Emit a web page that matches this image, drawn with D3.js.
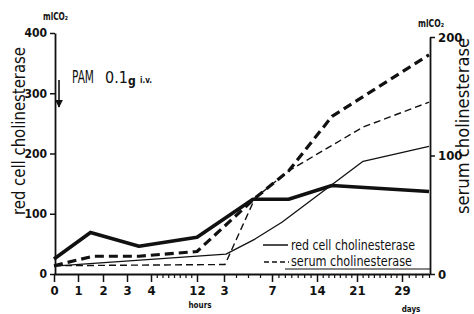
<!DOCTYPE html>
<html>
<head>
<meta charset="utf-8">
<script src="https://cdn.jsdelivr.net/npm/d3@7"></script>
<style>
  body { margin: 0; background: #fff; }
  text { font-family: "DejaVu Sans Condensed", "Liberation Sans Narrow", "Liberation Sans", sans-serif; font-stretch: condensed; fill: #111; }
  .axis path, .axis line { stroke: #111; }
</style>
</head>
<body>
<div id="chart"></div>
<script>
// Data (time in hours, 3d = 72h etc.)
// ===========================

// x axis: labelled ticks (hours first, then days)
var tickHours = [0, 1, 2, 3, 4, 12, 72, 168, 336, 504, 696];
var tickLabels = ["0", "1", "2", "3", "4", "12", "3", "7", "14", "21", "29"];
// minor ticks: hours 5..11, then single days
var minorHours = [5, 6, 7, 8, 9, 10, 11, 96, 120, 144,
  192, 216, 240, 264, 288, 312, 360, 384, 408, 432, 456, 480,
  528, 552, 576, 600, 624, 648, 672, 720, 744, 768, 792];

// red cell cholinesterase (left axis), two cases
var redHoursA = [0, 1.5, 3.5, 12, 130, 230, 399, 792];
var redValuesA = [25, 69, 46, 61, 124, 124, 147, 137];
var redHoursB = [0, 76, 134, 205, 530, 792];
var redValuesB = [13, 33, 58, 86, 187, 212];

// serum cholinesterase (right axis), two cases
var serumHoursA = [0, 1.6, 3.5, 12, 134, 230, 399, 792];
var serumValuesA = [7, 15, 15, 19, 64, 87, 133, 185];
var serumHoursB = [0, 74, 134, 230, 530, 792];
var serumValuesB = [7, 8, 64, 87, 124, 145];

var leftTicks = [0, 100, 200, 300, 400];
var rightTicks = [0, 100, 200];

// Setup
// ===========================
var width = 474;
var height = 314;

var svg = d3.select("#chart")
  .append("svg")
  .attr("width", width)
  .attr("height", height);

svg.append("rect").attr("width", width).attr("height", height).attr("fill", "#fff");

// piecewise x scale: hours are spread wide, days get squeezed
var x = d3.scaleLinear()
  .domain([0, 1, 2, 3, 4, 12, 72, 168, 336, 504, 696, 792])
  .range([54, 78, 103, 127, 151, 197, 224, 272, 317, 357, 402, 429]);

var yLeft = d3.scaleLinear().domain([0, 400]).range([274, 33]);
var yRight = d3.scaleLinear().domain([0, 200]).range([274, 37]);

// Axes
// ===========================
var xAxis = svg.append("g")
  .attr("class", "axis")
  .attr("transform", "translate(0,274)")
  .call(d3.axisBottom(x)
    .tickValues(tickHours)
    .tickFormat(function(d, i) { return tickLabels[i]; })
    .tickSize(8)
    .tickSizeOuter(0)
    .tickPadding(4));
xAxis.select(".domain").attr("stroke-width", 1.8);
xAxis.selectAll(".tick line").attr("stroke-width", 1.5);
xAxis.selectAll("text")
  .style("font-size", "13px")
  .style("font-weight", "bold");

svg.append("g")
  .attr("class", "axis")
  .attr("transform", "translate(0,274)")
  .call(d3.axisBottom(x).tickValues(minorHours).tickSize(4).tickFormat(""))
  .call(function(g) { g.select(".domain").remove(); })
  .selectAll(".tick line").attr("stroke-width", 1.2);

var leftAxis = svg.append("g")
  .attr("class", "axis")
  .attr("transform", "translate(55,0)")
  .call(d3.axisLeft(yLeft).tickValues(leftTicks).tickSize(5).tickSizeOuter(0).tickPadding(3));
leftAxis.select(".domain").attr("stroke-width", 1.8);
leftAxis.selectAll(".tick line").attr("stroke-width", 1.5);
leftAxis.selectAll("text").style("font-size", "12px").style("font-weight", "bold");

var rightAxis = svg.append("g")
  .attr("class", "axis")
  .attr("transform", "translate(430,0)")
  .call(d3.axisRight(yRight).tickValues(rightTicks).tickSize(5).tickSizeOuter(0).tickPadding(3));
rightAxis.select(".domain").attr("stroke-width", 1.8);
rightAxis.selectAll(".tick line").attr("stroke-width", 1.5);
rightAxis.selectAll("text").style("font-size", "13px").style("font-weight", "bold");

// axis titles
svg.append("text")
  .attr("transform", "translate(25,131)rotate(-90)")
  .attr("text-anchor", "middle")
  .attr("textLength", 168)
  .attr("lengthAdjust", "spacingAndGlyphs")
  .style("font-size", "18px")
  .text("red cell cholinesterase");

svg.append("text")
  .attr("transform", "translate(469,126)rotate(-90)")
  .attr("text-anchor", "middle")
  .attr("textLength", 176)
  .attr("lengthAdjust", "spacingAndGlyphs")
  .style("font-size", "17px")
  .text("serum cholinesterase");

svg.append("text")
  .attr("x", 43).attr("y", 20)
  .attr("textLength", 25).attr("lengthAdjust", "spacingAndGlyphs")
  .style("font-size", "10px").style("font-weight", "bold")
  .text("mlCO₂");
svg.append("text")
  .attr("x", 418).attr("y", 27)
  .attr("textLength", 26).attr("lengthAdjust", "spacingAndGlyphs")
  .style("font-size", "10px").style("font-weight", "bold")
  .text("mlCO₂");

svg.append("text")
  .attr("x", 200).attr("y", 308)
  .attr("text-anchor", "middle")
  .style("font-size", "8px").style("font-weight", "bold")
  .text("hours");
svg.append("text")
  .attr("x", 411).attr("y", 312)
  .attr("text-anchor", "middle")
  .style("font-size", "8px").style("font-weight", "bold")
  .text("days");

// PAM annotation
svg.append("text").attr("x", 72).attr("y", 83)
  .attr("textLength", 22).attr("lengthAdjust", "spacingAndGlyphs")
  .style("font-size", "17px").text("PAM");
var dose = svg.append("text").attr("x", 105).attr("y", 83).style("font-size", "16px");
dose.append("tspan").text("0.1");
dose.append("tspan").attr("dy", 2).style("font-size", "12px").style("font-weight", "bold").text("g");
svg.append("text").attr("x", 140).attr("y", 83)
  .style("font-size", "8px").style("font-weight", "bold")
  .text("i.v.");

svg.append("defs").append("marker")
  .attr("id", "arrow")
  .attr("viewBox", "0 0 10 10")
  .attr("refX", 9).attr("refY", 5)
  .attr("markerWidth", 5).attr("markerHeight", 5)
  .attr("orient", "auto")
  .append("path").attr("d", "M0,0L10,5L0,10Z").attr("fill", "#111");

svg.append("line")
  .attr("x1", 59).attr("y1", 80).attr("x2", 59).attr("y2", 107)
  .attr("stroke", "#111").attr("stroke-width", 1.6)
  .attr("marker-end", "url(#arrow)");

// Lines
// ===========================
function drawSeries(hours, values, yScale, widthPx, dash) {
  var pts = hours.map(function(h, i) { return [h, values[i]]; });
  var line = d3.line()
    .x(function(d) { return x(d[0]); })
    .y(function(d) { return yScale(d[1]); });
  svg.append("path")
    .datum(pts)
    .attr("d", line)
    .attr("fill", "none")
    .attr("stroke", "#111")
    .attr("stroke-width", widthPx)
    .attr("stroke-linejoin", "round")
    .attr("stroke-dasharray", dash);
}

drawSeries(redHoursB, redValuesB, yLeft, 1.3, null);
drawSeries(serumHoursB, serumValuesB, yRight, 1.4, "7,4");
drawSeries(redHoursA, redValuesA, yLeft, 3.6, null);
drawSeries(serumHoursA, serumValuesA, yRight, 3.2, "9,5");

// Legend
// ===========================
var legend = svg.append("g");
legend.append("line")
  .attr("x1", 285).attr("x2", 430).attr("y1", 269).attr("y2", 269)
  .attr("stroke", "#111").attr("stroke-width", 1.2);
legend.append("line")
  .attr("x1", 263).attr("x2", 288).attr("y1", 245).attr("y2", 245)
  .attr("stroke", "#111").attr("stroke-width", 1.5);
legend.append("line")
  .attr("x1", 264).attr("x2", 289).attr("y1", 262).attr("y2", 262)
  .attr("stroke", "#111").attr("stroke-width", 1.5)
  .attr("stroke-dasharray", "5,3");
legend.append("text")
  .attr("x", 291).attr("y", 250)
  .attr("textLength", 124).attr("lengthAdjust", "spacingAndGlyphs")
  .style("font-size", "14px")
  .text("red cell cholinesterase");
legend.append("text")
  .attr("x", 291).attr("y", 266)
  .attr("textLength", 121).attr("lengthAdjust", "spacingAndGlyphs")
  .style("font-size", "14px")
  .text("serum cholinesterase");
</script>
</body>
</html>
